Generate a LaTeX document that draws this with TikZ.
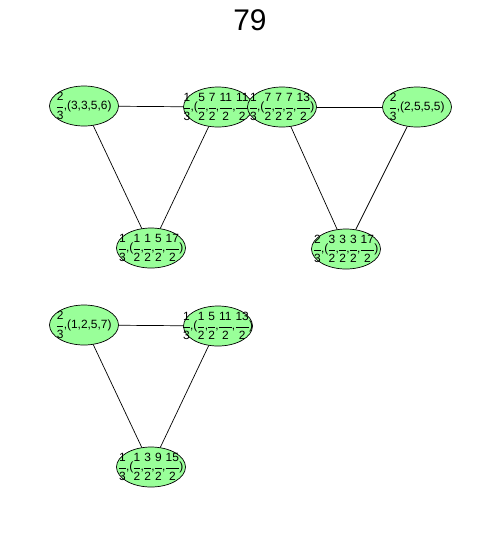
\documentclass[tikz,border=0pt]{standalone}
\usepackage{amsmath}
\usepackage{fontspec}
\setmainfont{Liberation Sans}
\usetikzlibrary{shapes.geometric}
\newcommand{\fr}[2]{$\nulldelimiterspace=0.2pt\genfrac{}{}{0.4pt}{0}{\mbox{#1}}{\mbox{#2}}$}

\begin{document}
\begin{tikzpicture}[x=0.02cm,y=-0.02cm]
%----------estilos---------
\tikzset{nodo/.style={
ellipse,
draw,
fill={rgb,255:red,153;green,255;blue,153},
minimum width=1.38cm,
minimum height=0.8cm,
inner sep=0pt,
label={[font=\fontsize{6.8}{8}\selectfont,inner sep=0pt]center:#1}},
arista/.style={line width=0.4pt}};

\useasboundingbox (0,0) rectangle (500,538);

\node (titulo) at (250,20) {\fontsize{17}{20}\selectfont 79};

%------------ grupo 1 ---------------
\node [nodo={\fr{2}{3},(3,3,5,6)}] (a) at (84,106) {};
\node [nodo={\fr{1}{3},(\fr{5}{2},\fr{7}{2},\fr{11}{2},\fr{11}{2})}] (b) at (218,107) {};
\node [nodo={\fr{1}{3},(\fr{1}{2},\fr{1}{2},\fr{5}{2},\fr{17}{2})}] (e) at (151,248) {};

%------------ grupo 2 ---------------
\node [nodo={\fr{1}{3},(\fr{7}{2},\fr{7}{2},\fr{7}{2},\fr{13}{2})}] (c) at (282,107) {};
\node [nodo={\fr{2}{3},(2,5,5,5)}] (d) at (417,107) {};
\node [nodo={\fr{2}{3},(\fr{3}{2},\fr{3}{2},\fr{3}{2},\fr{17}{2})}] (f) at (346,249) {};

%------------ grupo 3 ---------------
\node [nodo={\fr{2}{3},(1,2,5,7)}] (g) at (84,325) {};
\node [nodo={\fr{1}{3},(\fr{1}{2},\fr{5}{2},\fr{11}{2},\fr{13}{2})}] (h) at (218,326) {};
\node [nodo={\fr{1}{3},(\fr{1}{2},\fr{3}{2},\fr{9}{2},\fr{15}{2})}] (i) at (151,467) {};

% aristas
\draw [arista] (a)--(b);
\draw [arista] (a)--(e);
\draw [arista] (b)--(e);
\draw [arista] (c)--(d);
\draw [arista] (c)--(f);
\draw [arista] (d)--(f);
\draw [arista] (g)--(h);
\draw [arista] (g)--(i);
\draw [arista] (h)--(i);
\end{tikzpicture}
\end{document}
